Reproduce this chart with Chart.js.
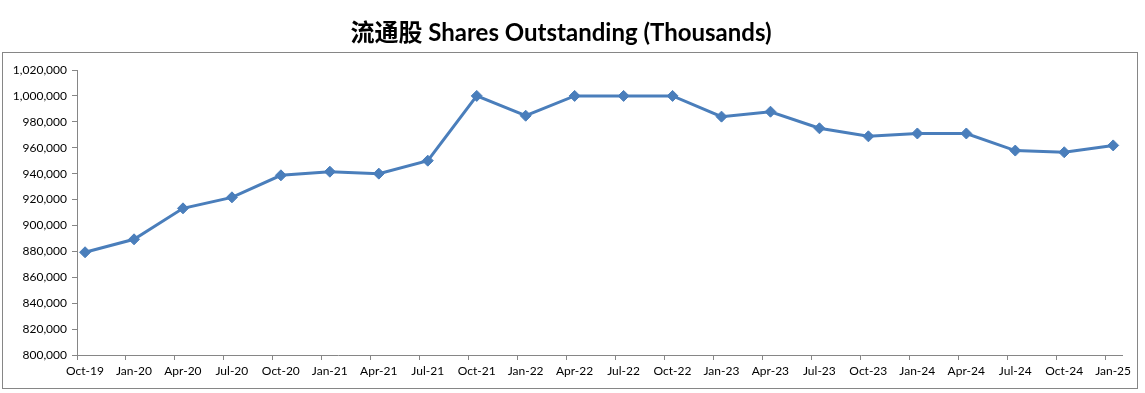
<!DOCTYPE html>
<html>
<head>
<meta charset="utf-8">
<script src="https://cdn.jsdelivr.net/npm/chart.js@4/dist/chart.umd.min.js"></script>
<style>
  html, body { margin: 0; padding: 0; background: #fff; }
  #wrap { width: 1145px; height: 393px; }
</style>
</head>
<body>
<div id="wrap"><canvas id="shares" width="1145" height="393"></canvas></div>
<script>
const categories = ['Oct-19', 'Jan-20', 'Apr-20', 'Jul-20', 'Oct-20', 'Jan-21', 'Apr-21', 'Jul-21',
  'Oct-21', 'Jan-22', 'Apr-22', 'Jul-22', 'Oct-22', 'Jan-23', 'Apr-23', 'Jul-23',
  'Oct-23', 'Jan-24', 'Apr-24', 'Jul-24', 'Oct-24', 'Jan-25'];
const shares = [879300, 889300, 913200, 921700, 938700, 941500, 940000, 950000,
  1000000, 984700, 1000000, 1000000, 1000000, 984000, 987800, 975000,
  968800, 971000, 971000, 957800, 956500, 961800];
const yTicks = { min: 800000, max: 1020000, step: 20000 };
const titleText = '流通股 Shares Outstanding (Thousands)';

const axisGray = '#868686';
const lineBlue = '#4a7ebb';
const tickShift = 0.165; // tick marks sit a bit before each point, as in the original

const frame = {
  id: 'frame',
  beforeDraw(chart) {
    const c = chart.ctx;
    c.save();
    c.strokeStyle = axisGray;
    c.lineWidth = 1;
    c.strokeRect(2.5, 52.5, 1135, 336);
    c.restore();
  }
};

new Chart(document.getElementById('shares').getContext('2d'), {
  type: 'line',
  data: {
    datasets: [{
      data: shares.map((v, i) => ({ x: i, y: v })),
      borderColor: lineBlue,
      backgroundColor: lineBlue,
      borderWidth: 3,
      pointStyle: 'rectRot',
      pointRadius: 5.5,
      pointBorderWidth: 1,
      tension: 0
    }]
  },
  options: {
    responsive: false,
    animation: false,
    layout: { padding: { left: 0, right: 23, top: 0, bottom: 0 } },
    scales: {
      x: {
        type: 'linear',
        min: -tickShift,
        max: categories.length - 1 + 0.18,
        afterBuildTicks: scale => {
          scale.ticks = categories.map((c, i) => ({ value: i - tickShift }));
        },
        afterFit: scale => { scale.height = 38; },
        border: { display: true, color: axisGray },
        grid: { display: true, drawOnChartArea: false, drawTicks: true, tickLength: 5, color: axisGray },
        ticks: {
          autoSkip: false,
          maxRotation: 0,
          labelOffset: 8,
          padding: 4,
          color: '#000',
          font: { family: 'Lato', size: 12 },
          callback: (v, i) => categories[i]
        }
      },
      y: {
        min: yTicks.min,
        max: yTicks.max,
        afterFit: scale => { scale.width = 77; },
        border: { display: true, color: axisGray },
        grid: { display: true, drawOnChartArea: false, drawTicks: true, tickLength: 5, color: axisGray },
        ticks: {
          stepSize: yTicks.step,
          padding: 5,
          color: '#000',
          font: { family: 'Lato', size: 12 },
          callback: v => v.toLocaleString('en-US')
        }
      }
    },
    plugins: {
      legend: { display: false },
      tooltip: { enabled: false },
      title: {
        display: true,
        text: titleText,
        color: '#000',
        font: { family: 'Lato, "Noto Sans CJK SC"', size: 24, weight: 'bold' },
        padding: { top: 18.5, bottom: 22.7 }
      }
    }
  },
  plugins: [frame]
});
</script>
</body>
</html>
